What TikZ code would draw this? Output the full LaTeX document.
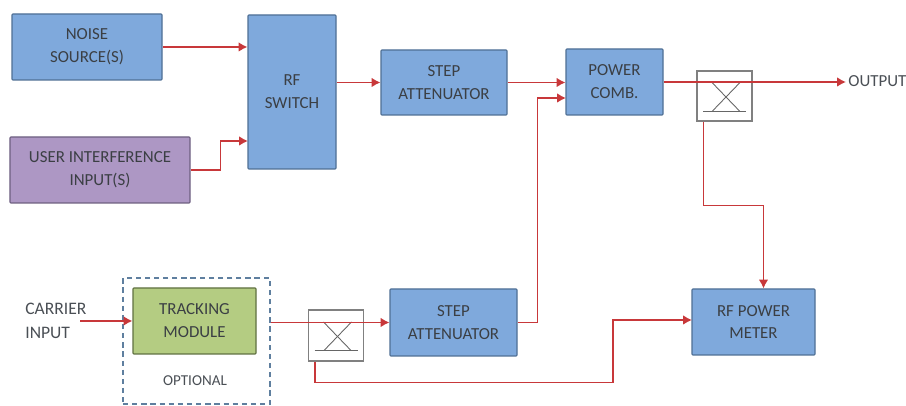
\documentclass[tikz,border=0pt]{standalone}
\usepackage{fontspec}
\setmainfont{Carlito}
\usetikzlibrary{arrows.meta}
\definecolor{boxblue}{HTML}{7FA9DC}
\definecolor{boxblueline}{HTML}{4F6F94}
\definecolor{boxpurple}{HTML}{AD97C4}
\definecolor{boxpurpleline}{HTML}{6E5F80}
\definecolor{boxgreen}{HTML}{B4CC82}
\definecolor{boxgreenline}{HTML}{5F7040}
\definecolor{wirered}{HTML}{C8383A}
\definecolor{labelgrey}{HTML}{4A4F55}
\definecolor{dashblue}{HTML}{5F7F9F}
\tikzset{
	blockbox/.style={draw=boxblueline, fill=boxblue, line width=0.6pt, align=center, text=labelgrey!80!black, font=\fontsize{9.6}{13}\selectfont, rounded corners=0.5pt},
	couplerbox/.style={draw=black!50, line width=0.6pt, minimum width=1.1cm, minimum height=1cm},
	couplermark/.style={draw=black!60, line width=0.5pt},
	wire/.style={wirered, line width=1.1pt, -{Latex[length=5pt,width=5.5pt]}},
	freelabel/.style={align=left, text=labelgrey, font=\fontsize{9.6}{13}\selectfont}
}
\begin{document}
\begin{tikzpicture}
	\useasboundingbox (0,0) rectangle (18.12,8.12);

	\node[blockbox, minimum width=3cm, minimum height=1.32cm] (noise) at (1.74,7.18) {NOISE\\SOURCE(S)};
	\node[blockbox, fill=boxpurple, draw=boxpurpleline, minimum width=3.6cm, minimum height=1.32cm] (user) at (2,4.72) {USER INTERFERENCE\\INPUT(S)};
	\node[blockbox, minimum width=1.76cm, minimum height=3.08cm] (switch) at (5.84,6.28) {RF\\SWITCH};
	\node[blockbox, minimum width=2.52cm, minimum height=1.3cm] (stepa) at (8.88,6.47) {STEP\\ATTENUATOR};
	\node[blockbox, minimum width=1.94cm, minimum height=1.32cm] (comb) at (12.29,6.48) {POWER\\COMB.};
	\node[blockbox, minimum width=2.54cm, minimum height=1.34cm] (stepb) at (9.07,1.67) {STEP\\ATTENUATOR};
	\node[blockbox, minimum width=2.46cm, minimum height=1.32cm] (meter) at (15.07,1.68) {RF POWER\\METER};
	\node[blockbox, fill=boxgreen, draw=boxgreenline, minimum width=2.46cm, minimum height=1.32cm] (tracking) at (3.89,1.7) {TRACKING\\MODULE};

	\node[draw=dashblue, dash pattern=on 3pt off 2.2pt, line width=0.8pt, minimum width=2.94cm, minimum height=2.52cm] (optional) at (3.93,1.3) {};
	\node[freelabel, font=\fontsize{8.6}{13}\selectfont] (optlabel) at (3.9,0.5) {OPTIONAL};
	\node[freelabel, anchor=west, inner sep=0pt, font=\fontsize{10}{13.5}\selectfont] (carrier) at (0.5,1.7) {CARRIER\\INPUT};
	\node[freelabel, anchor=west, inner sep=0pt] (output) at (16.96,6.5) {OUTPUT};

	\node[couplerbox] (couplera) at (14.49,6.2) {};
	\node[couplerbox, minimum height=1.02cm] (couplerb) at (6.72,1.41) {};

	% crossed mark of the two couplers
	\foreach \c in {couplera,couplerb} {
		\draw[couplermark] ([shift={(-0.25,0.27)}]\c.center) -- ([shift={(0.3,-0.3)}]\c.center);
		\draw[couplermark] ([shift={(0.31,0.27)}]\c.center) -- ([shift={(-0.24,-0.3)}]\c.center);
		\draw[couplermark] ([shift={(-0.43,-0.3)}]\c.center) -- ([shift={(0.43,-0.3)}]\c.center);
	}

	\coordinate (swtop) at (switch.west |- noise.east);
	\coordinate (swlow) at (4.96,5.3);
	\coordinate (combtop) at (comb.west |- stepa.east);
	\coordinate (comblow) at (11.32,6.16);
	\coordinate (carrierend) at (1.6,1.7);
	\coordinate (outputend) at (16.92,6.48);
	\coordinate (meterin) at (13.84,1.72);

	\draw[wire] (noise.east) -- (swtop);
	\draw[wire] (user.east) -- ++(0.6,0) |- (swlow);
	\draw[wire] (switch.east |- stepa.west) -- (stepa.west);
	\draw[wire] (stepa.east) -- (combtop);
	\draw[wire] (stepb.east) -- ++(0.4,0) |- (comblow);
	\draw[wire] (comb.east) -- (outputend);
	\draw[wire] (carrierend) -- (tracking.west);
	\draw[wire] (optional.east |- stepb.west) -- (stepb.west);
	\draw[wire] ([xshift=-0.42cm]couplera.south) -- ++(0,-1.68) -| ([xshift=0.2cm]meter.north);
	\draw[wire] ([xshift=-0.42cm]couplerb.south) -- ++(0,-0.42) -| (12.26,1.72) -- (meterin);
\end{tikzpicture}
\end{document}
